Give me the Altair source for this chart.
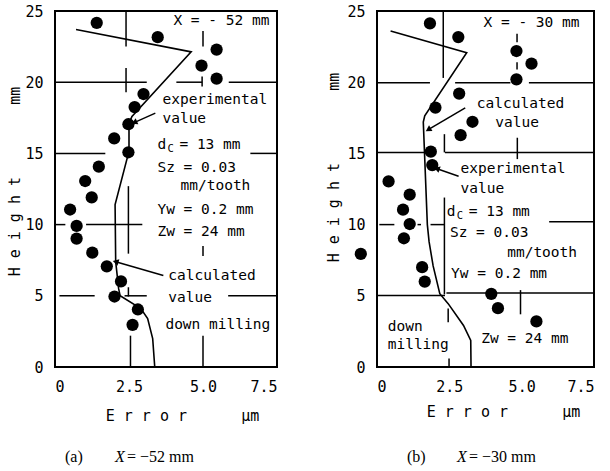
import math
import altair as alt
import pandas as pd

MONO = "DejaVu Sans Mono"
SERIF = "Liberation Serif"
NB = "\u00a0"

# ---------------- panel (a): X = -52 mm ----------------
a_meas_err = [1.41, 3.47, 5.46, 4.95, 5.46, 2.99, 2.69, 2.48, 2.00, 2.48, 1.48,
              1.02, 1.24, 0.51, 0.73, 0.73, 1.26, 1.75, 2.23, 2.01, 2.80, 2.62]
a_meas_h = [24.17, 23.16, 22.29, 21.16, 20.25, 19.17, 18.25, 17.05, 16.05, 15.08, 14.07,
            13.06, 11.91, 11.06, 9.91, 9.02, 8.03, 7.07, 6.01, 4.95, 4.04, 2.96]
a_calc_err = [0.71, 4.60, 2.60, 2.50, 2.50, 2.03, 2.05, 2.15, 2.20, 2.90, 3.13, 3.30, 3.37]
a_calc_h = [23.7, 22.13, 17.6, 17.1, 15.15, 11.4, 7.4, 5.5, 5.0, 4.1, 3.4, 2.0, 0.0]

# ---------------- panel (b): X = -30 mm ----------------
b_meas_err = [1.83, 2.81, 4.82, 5.34, 4.82, 2.84, 2.02, 3.30, 2.89, 1.86, 1.91,
              0.40, 1.13, 0.90, 1.13, 0.93, -0.56, 1.56, 1.65, 3.95, 4.18, 5.51]
b_meas_h = [24.13, 23.17, 22.19, 21.30, 20.20, 19.20, 18.22, 17.22, 16.28, 15.12, 14.18,
            13.03, 12.10, 11.05, 10.04, 9.04, 7.94, 7.01, 6.00, 5.14, 4.13, 3.20]
b_calc_err = [0.47, 3.10, 1.65, 1.60, 1.74, 1.80, 1.94, 2.17, 2.46, 2.99, 3.24, 3.25]
b_calc_h = [23.6, 22.07, 17.64, 17.2, 10.0, 8.8, 7.1, 5.15, 4.45, 2.92, 1.87, 0.0]

# axis tick values
height_ticks = [0, 5, 10, 15, 20, 25]
error_ticks = [0, 2.5, 5.0, 7.5]

# broken grid lines: horizontal (y, x1, x2) and vertical (x, y1, y2)
a_grid_h = [(20, 0, 3.1), (20, 4.1, 4.97), (20, 5.87, 7.5), (15, 0, 1.7), (15, 6.6, 7.5),
            (10, 0, 0.35), (10, 1.05, 2.95), (5, 0.15, 1.34), (5, 2.35, 3.1), (5, 5.85, 7.5)]
a_grid_v = [(2.4, 22.5, 25), (2.4, 19.3, 21.0), (5.0, 22.5, 23.6), (4.97, 19.7, 20.4),
            (2.48, 7.96, 12.7), (2.48, 4.95, 5.6), (2.55, 0, 2.2), (5.0, 7.8, 8.5), (5.0, 0, 2.2)]
b_grid_h = [(19.97, 0, 1.83), (19.97, 2.7, 4.61), (19.97, 5.25, 7.5), (15.07, 0, 1.71),
            (15.07, 2.35, 7.5), (10, 0.08, 0.6), (10, 1.4, 1.52), (10, 1.85, 2.33),
            (10.2, 5.95, 7.5), (5.02, 0, 2.35), (5.2, 2.4, 7.5)]
b_grid_v = [(2.29, 20.3, 25), (2.33, 15.07, 16.35), (2.33, 5.1, 11.9), (2.46, 3.15, 4.1),
            (2.49, 0, 0.6), (4.84, 22.8, 23.4), (4.84, 20.9, 21.4), (4.85, 14.6, 16.1),
            (4.96, 3.7, 5.4)]

# annotation texts (label, error, height)
a_notes = [("X = - 52 mm", 4.0, 24.3), ("experimental", 3.63, 18.75), ("value", 3.63, 17.4),
           ("Sz = 0.03", 3.46, 13.95), ("mm/tooth", 4.24, 12.68), ("Yw = 0.2 mm", 3.46, 11.06),
           ("Zw = 24 mm", 3.46, 9.5), ("calculated", 3.83, 6.41), ("value", 3.83, 4.86),
           ("down milling", 3.73, 2.96)]
a_dc = (3.46, 15.57)
a_arrows = [(3.39, 17.83, 2.71, 17.2), (3.66, 6.43, 2.08, 7.37)]

b_notes = [("X = - 30 mm", 3.68, 24.13), ("calculated", 3.45, 18.45), ("value", 4.09, 17.12),
           ("experimental", 2.89, 13.9), ("value", 2.89, 12.5), ("Sz = 0.03", 2.52, 9.4),
           ("mm/tooth", 4.5, 7.99), ("Yw = 0.2 mm", 2.56, 6.54), ("down", 0.37, 2.8),
           ("milling", 0.37, 1.56), ("Zw = 24 mm", 3.6, 1.94)]
b_dc = (2.41, 10.9)
b_arrows = [(3.05, 18.2, 1.8, 16.7), (2.82, 13.4, 2.1, 13.9)]

W_A, W_B, H = 222, 217, 356
XS = alt.Scale(domain=[0, 7.5], nice=False, zero=False)
YS = alt.Scale(domain=[0, 25], nice=False, zero=False)

Y_TITLE = NB.join("Height") + NB * 8 + "mm"
X_TITLE = NB.join("Error") + NB * 6 + "μm"


def panel(meas_err, meas_h, calc_err, calc_h, grid_h, grid_v, notes, dc, arrows,
          width, ytitle_x, ytitle_y, xtitle_x, xtitle_y, tag, xval, cap_x):
    kx, ky = width / 7.5, H / 25.0

    xaxis = alt.Axis(values=error_ticks, title=X_TITLE,
                     labelExpr="datum.value == 0 ? '0' : format(datum.value, '.1f')",
                     titleX=xtitle_x, titleY=xtitle_y, titleAlign="center", titleBaseline="middle")
    yaxis = alt.Axis(values=height_ticks, title=Y_TITLE, titleX=ytitle_x, titleY=ytitle_y,
                     titleAngle=270, titleAlign="center", titleBaseline="middle")

    def X(field):
        return alt.X(field, type="quantitative", scale=XS, axis=xaxis)

    def Y(field):
        return alt.Y(field, type="quantitative", scale=YS, axis=yaxis)

    pts = pd.DataFrame({"err": meas_err, "h": meas_h})
    calc = pd.DataFrame({"err": calc_err, "h": calc_h, "i": list(range(len(calc_err)))})
    segs = ([{"x1": a, "x2": b, "y1": y, "y2": y} for (y, a, b) in grid_h] +
            [{"x1": x, "x2": x, "y1": a, "y2": b} for (x, a, b) in grid_v])
    seg_df = pd.DataFrame(segs)
    note_df = pd.DataFrame(notes, columns=["t", "x", "y"])
    dc_df = pd.DataFrame({"x": [dc[0]], "y": [dc[1]]})
    arr_df = pd.DataFrame(arrows, columns=["tx", "ty", "hx", "hy"])
    arr_df["ang"] = [
        (math.degrees(math.atan2((hx - tx) * kx, (hy - ty) * ky)) + 360) % 360
        for tx, ty, hx, hy in arrows
    ]

    grid = alt.Chart(seg_df).mark_rule(color="black", strokeWidth=1.5).encode(
        x=X("x1"), x2="x2:Q", y=Y("y1"), y2="y2:Q")
    line = alt.Chart(calc).mark_line(color="black", strokeWidth=1.6).encode(
        x=X("err"), y=Y("h"), order="i:Q")
    dots = alt.Chart(pts).mark_circle(color="black", opacity=1, size=150).encode(
        x=X("err"), y=Y("h"))
    txt = alt.Chart(note_df).mark_text(align="left", baseline="middle", font=MONO,
                                       fontSize=14.5, color="black").encode(
        x=X("x"), y=Y("y"), text="t:N")
    dc_layers = [
        alt.Chart(dc_df).mark_text(text=s, align="left", baseline="middle", font=MONO,
                                   fontSize=fs, dx=ddx, dy=ddy, color="black").encode(
            x=X("x"), y=Y("y"))
        for s, fs, ddx, ddy in [("d", 14.5, 0, 0), ("C", 10.5, 10, 4), ("= 13 mm", 14.5, 22, 0)]
    ]
    shafts = alt.Chart(arr_df).mark_rule(color="black", strokeWidth=1.5).encode(
        x=X("tx"), x2="hx:Q", y=Y("ty"), y2="hy:Q")
    heads = alt.Chart(arr_df).mark_point(shape="triangle", filled=True, color="black",
                                         opacity=1, size=45).encode(
        x=X("hx"), y=Y("hy"), angle=alt.Angle("ang:Q", scale=None))

    cap_df = pd.DataFrame({"k": [0]})
    cap_y = H + 90
    caption = [
        alt.Chart(cap_df).mark_text(text=f"({tag})", align="left", baseline="middle",
                                    font=SERIF, fontSize=16, color="black").encode(
            x=alt.value(cap_x), y=alt.value(cap_y)),
        alt.Chart(cap_df).mark_text(text="X", align="left", baseline="middle", font=SERIF,
                                    fontStyle="italic", fontSize=16, color="black").encode(
            x=alt.value(cap_x + 50), y=alt.value(cap_y)),
        alt.Chart(cap_df).mark_text(text=f"= −{xval} mm", align="left", baseline="middle",
                                    font=SERIF, fontSize=16, color="black").encode(
            x=alt.value(cap_x + 62), y=alt.value(cap_y)),
    ]

    return alt.layer(grid, line, dots, txt, *dc_layers, shafts, heads, *caption).properties(
        width=width, height=H)


left = panel(a_meas_err, a_meas_h, a_calc_err, a_calc_h, a_grid_h, a_grid_v, a_notes, a_dc,
             a_arrows, W_A, -41, 170, 127, 48, "a", 52, 10)
right = panel(b_meas_err, b_meas_h, b_calc_err, b_calc_h, b_grid_h, b_grid_v, b_notes, b_dc,
              b_arrows, W_B, -44, 156, 126, 44, "b", 30, 30)

chart = alt.hconcat(left, right, spacing=100, bounds="flush").properties(
    padding={"left": 6, "top": 3, "right": 0, "bottom": 0},
    background="white",
).configure_view(stroke="black", strokeWidth=2).configure_axis(
    domain=False, ticks=False, grid=False,
    labelFont=MONO, labelFontSize=15, labelColor="black", labelPadding=12,
    titleFont=MONO, titleFontSize=15, titleFontWeight="normal", titleColor="black",
)

chart.save("out.html", embed_options={"renderer": "svg", "actions": False})
